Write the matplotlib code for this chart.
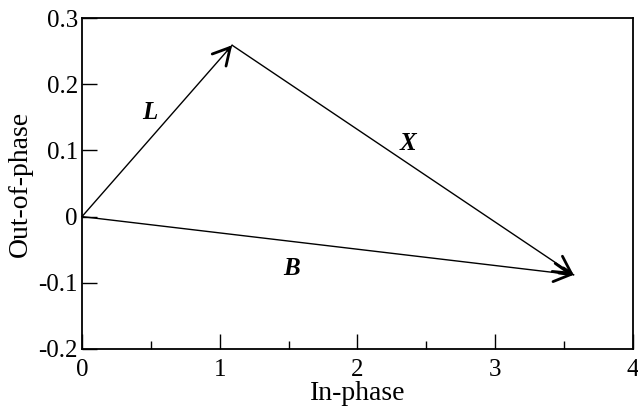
import matplotlib
matplotlib.use("Agg")
import matplotlib.pyplot as plt
from matplotlib.ticker import MultipleLocator

plt.rcParams['font.family'] = ['Liberation Serif', 'DejaVu Serif']

# vector data (in-phase, out-of-phase)
origin = (0.0, 0.0)
L_tip = (1.09, 0.259)
B_tip = (3.57, -0.088)
vec_names = ["L", "X", "B"]
vec_starts = [origin, L_tip, origin]
vec_ends = [L_tip, B_tip, B_tip]
label_pos = [(0.49, 0.158), (2.37, 0.111), (1.52, -0.078)]

xticks = [0, 1, 2, 3, 4]
yticks = [-0.2, -0.1, 0, 0.1, 0.2, 0.3]
yticklabels = ["-0.2", "-0.1", "0", "0.1", "0.2", "0.3"]

fig = plt.figure(figsize=(6.38, 4.11), dpi=100)
ax = fig.add_axes([0.1285, 0.151, 0.8635, 0.805])
ax.set_xlim(0, 4)
ax.set_ylim(-0.2, 0.3)

for s, e in zip(vec_starts, vec_ends):
    # shaft
    ax.annotate("", xy=e, xytext=s,
                arrowprops=dict(arrowstyle="-", color="black", lw=1.0,
                                shrinkA=0, shrinkB=0))
    # bold open head
    f = 0.97
    near = (s[0] + f * (e[0] - s[0]), s[1] + f * (e[1] - s[1]))
    ax.annotate("", xy=e, xytext=near,
                arrowprops=dict(arrowstyle="->,head_length=0.55,head_width=0.3",
                                color="black", lw=2.0,
                                mutation_scale=22, shrinkA=0, shrinkB=0))
for name, p in zip(vec_names, label_pos):
    ax.text(p[0], p[1], name, fontsize=18, fontweight="bold", fontstyle="italic",
            ha="center", va="center")

ax.set_xticks(xticks)
ax.set_xticklabels([str(t) for t in xticks])
ax.set_yticks(yticks)
ax.set_yticklabels(yticklabels)
ax.xaxis.set_minor_locator(MultipleLocator(0.5))
ax.tick_params(which="both", direction="in", labelsize=18, top=False, right=False)
ax.tick_params(which="major", length=11, width=1)
ax.tick_params(which="minor", length=6, width=1)
ax.tick_params(axis="x", pad=7)
ax.tick_params(axis="y", pad=3)
for sp in ax.spines.values():
    sp.set_linewidth(1.3)

ax.set_xlabel("In-phase", fontsize=20, labelpad=0)
ax.set_ylabel("Out-of-phase", fontsize=20, labelpad=4)

fig.savefig("out.png", dpi=100)
